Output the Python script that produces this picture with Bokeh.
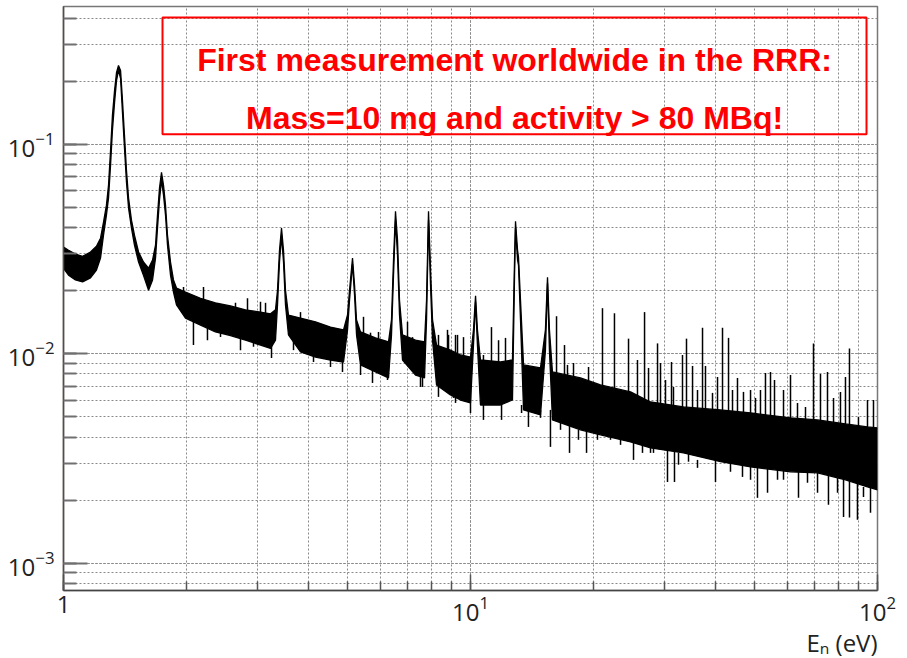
from bokeh.plotting import figure
from bokeh.models import BoxAnnotation, Label, Range1d, LogTickFormatter, LogTicker, Title
from bokeh.embed import file_html
from bokeh.resources import INLINE

# ---- data -----------------------------------------------------------------
# neutron energy (eV) of the anchors of the dense noisy capture-yield band
energy_band = [
    1.000, 1.029, 1.070, 1.114, 1.165, 1.205, 1.233, 1.254, 1.275, 1.290,
    1.305, 1.319, 1.335, 1.350, 1.365, 1.381, 1.396, 1.412, 1.428, 1.445,
    1.469, 1.494, 1.529, 1.572, 1.618, 1.655, 1.683, 1.702, 1.721, 1.741,
    1.761, 1.781, 1.801, 1.832, 1.863, 1.895, 1.994, 2.171, 2.362, 2.572,
    2.800, 3.048, 3.226, 3.318, 3.356, 3.394, 3.433, 3.472, 3.511, 3.571,
    3.822, 4.160, 4.529, 4.876, 4.987, 5.044, 5.130, 5.189, 5.248, 5.368,
    5.843, 6.289, 6.396, 6.469, 6.542, 6.617, 6.692, 6.807, 7.327, 7.710,
    7.798, 7.886, 7.976, 8.067, 8.252, 8.928, 9.450, 10.00, 10.17, 10.29,
    10.40, 10.58, 11.85, 12.68, 12.83, 12.90, 13.05, 13.12, 13.27, 13.50,
    14.86, 15.28, 15.46, 15.63, 15.90, 18.63, 20.86, 24.73, 27.69, 33.37,
    41.15, 48.76, 61.13, 71.23, 83.43, 94.50, 100.0,
]
# upper edge of the band
yield_band_hi = [
    0.0323, 0.0312, 0.0299, 0.0292, 0.0306, 0.0326, 0.0356, 0.0425, 0.0512, 0.0637,
    0.0936, 0.1375, 0.1809, 0.2205, 0.2381, 0.2254, 0.1621, 0.1104, 0.0752, 0.0553,
    0.0434, 0.0368, 0.0306, 0.0274, 0.0256, 0.0280, 0.0330, 0.0459, 0.0617, 0.0735,
    0.0637, 0.0512, 0.0368, 0.0274, 0.0225, 0.0206, 0.0197, 0.0184, 0.0175, 0.0169,
    0.0162, 0.0158, 0.0155, 0.0162, 0.0201, 0.0312, 0.0398, 0.0312, 0.0201, 0.0153,
    0.0148, 0.0142, 0.0134, 0.0130, 0.0153, 0.0201, 0.0286, 0.0213, 0.0145, 0.0127,
    0.0119, 0.0114, 0.0145, 0.0280, 0.0479, 0.0349, 0.0180, 0.0123, 0.0116, 0.0114,
    0.0180, 0.0479, 0.0251, 0.0145, 0.0110, 0.0104, 0.00986, 0.00964, 0.0130, 0.0189,
    0.0130, 0.00933, 0.00913, 0.00933, 0.0280, 0.0429, 0.0312, 0.0289, 0.0180, 0.00884,
    0.00855, 0.0130, 0.0232, 0.0130, 0.00818, 0.00766, 0.00709, 0.00657, 0.00588, 0.00557,
    0.00539, 0.00521, 0.00494, 0.00483, 0.00462, 0.00447, 0.00442,
]
# lower edge of the band
yield_band_lo = [
    0.0256, 0.0237, 0.0225, 0.0220, 0.0230, 0.0251, 0.0286, 0.0368, 0.0459, 0.0553,
    0.0794, 0.1166, 0.1586, 0.2019, 0.2254, 0.2064, 0.1421, 0.0957, 0.0659, 0.0495,
    0.0398, 0.0330, 0.0274, 0.0237, 0.0201, 0.0225, 0.0286, 0.0398, 0.0541, 0.0673,
    0.0571, 0.0459, 0.0330, 0.0237, 0.0197, 0.0171, 0.0148, 0.0137, 0.0127, 0.0122,
    0.0116, 0.0110, 0.0106, 0.0116, 0.0171, 0.0274, 0.0364, 0.0274, 0.0171, 0.0123,
    0.0102, 0.00964, 0.00933, 0.00913, 0.0130, 0.0180, 0.0268, 0.0191, 0.0123, 0.00884,
    0.00818, 0.00766, 0.0123, 0.0237, 0.0434, 0.0296, 0.0153, 0.00933, 0.00791, 0.00766,
    0.0145, 0.0434, 0.0213, 0.0116, 0.00709, 0.00635, 0.00601, 0.00582, 0.0110, 0.0177,
    0.0110, 0.00569, 0.00569, 0.00601, 0.0237, 0.0398, 0.0280, 0.0265, 0.0145, 0.00539,
    0.00510, 0.0104, 0.0217, 0.0104, 0.00483, 0.00433, 0.00410, 0.00379, 0.00355, 0.00336,
    0.00305, 0.00288, 0.00273, 0.00270, 0.00250, 0.00231, 0.00224,
]

# narrow upward noise spikes / small resonances above the band
spike_energy = [
    5.459, 7.002, 8.343, 8.831, 9.292, 9.612, 11.26, 11.72, 12.19, 16.27,
    17.02, 21.10, 22.58, 24.45, 26.77, 28.81, 31.18, 33.94, 35.12, 37.16,
    37.79, 41.61, 43.05, 45.29, 53.06, 54.59, 61.13, 69.62, 72.43, 75.36,
    83.43, 85.34, 97.76,
    1.972, 2.208, 2.646, 2.832, 3.048, 3.136, 3.822, 4.091, 4.329, 4.529,
    4.739, 5.680, 5.943, 7.203, 7.452, 8.780, 9.187, 10.76, 13.81, 14.69,
    17.31, 17.91, 19.50, 25.72, 27.38, 29.30, 30.14, 31.53, 33.18, 36.12,
    39.32, 40.45, 44.03, 46.85, 48.76, 50.15, 51.58, 55.84, 58.76, 63.60,
    66.54, 77.98, 81.10, 89.79, 94.50,
]
spike_top = [
    0.0150, 0.0142, 0.0123, 0.0123, 0.0123, 0.0120, 0.0134, 0.0116, 0.0119, 0.0151,
    0.0110, 0.0165, 0.0156, 0.0118, 0.0158, 0.0112, 0.00913, 0.0118, 0.00874, 0.0133,
    0.00874, 0.0133, 0.0119, 0.00766, 0.00809, 0.00818, 0.00791, 0.0112, 0.00800, 0.00818,
    0.00774, 0.0106, 0.00601,
    0.0208, 0.0208, 0.0175, 0.0184, 0.0177, 0.0175, 0.0158, 0.0140, 0.0137, 0.0133,
    0.0130, 0.0126, 0.0127, 0.0120, 0.0112, 0.0130, 0.0123, 0.00986, 0.00884, 0.00864,
    0.00884, 0.00903, 0.00864, 0.00933, 0.00855, 0.00903, 0.00749, 0.00694, 0.00986, 0.00671,
    0.00650, 0.00774, 0.00671, 0.00657, 0.00671, 0.00615, 0.00671, 0.00749, 0.00671, 0.00582,
    0.00557, 0.00615, 0.00657, 0.00499, 0.00601,
]
spike_base = [
    0.0110, 0.0104, 0.00836, 0.00791, 0.00836, 0.00836, 0.00836, 0.00791, 0.00791, 0.00749,
    0.00709, 0.00671, 0.00635, 0.00601, 0.00601, 0.00569, 0.00539, 0.00539, 0.00539, 0.00539,
    0.00539, 0.00527, 0.00527, 0.00510, 0.00494, 0.00494, 0.00483, 0.00483, 0.00473, 0.00473,
    0.00457, 0.00457, 0.00433,
    0.0180, 0.0171, 0.0153, 0.0153, 0.0148, 0.0148, 0.0137, 0.0123, 0.0123, 0.0116,
    0.0116, 0.0110, 0.0110, 0.0104, 0.00986, 0.00933, 0.00884, 0.00836, 0.00791, 0.00766,
    0.00709, 0.00709, 0.00671, 0.00601, 0.00569, 0.00539, 0.00539, 0.00539, 0.00539, 0.00527,
    0.00510, 0.00510, 0.00510, 0.00494, 0.00494, 0.00483, 0.00483, 0.00483, 0.00473, 0.00457,
    0.00457, 0.00442, 0.00442, 0.00433, 0.00423,
]

# narrow downward noise dips below the band
dip_energy = [
    2.086, 2.722, 3.244, 5.744, 6.253, 7.536, 8.343, 9.083, 10.00, 10.76,
    11.92, 13.88, 15.72, 17.51, 19.28, 25.15, 27.69, 30.48, 31.71, 39.99,
    50.71, 53.68, 63.96, 75.78, 82.52, 85.34, 89.28, 96.12,
    2.258, 2.431, 2.930, 3.674, 4.114, 4.529, 4.847, 5.368, 7.622, 9.187,
    13.35, 14.86, 16.64, 18.42, 20.51, 22.08, 23.37, 26.46, 28.16, 32.44,
    34.33, 36.12, 43.53, 46.59, 48.76, 56.80, 58.76, 67.30, 71.23, 79.76,
    92.38,
]
dip_bottom = [
    0.0110, 0.0104, 0.00954, 0.00725, 0.00749, 0.00694, 0.00622, 0.00615, 0.00521, 0.00483,
    0.00483, 0.00447, 0.00359, 0.00336, 0.00336, 0.00311, 0.00336, 0.00244, 0.00244, 0.00244,
    0.00205, 0.00217, 0.00205, 0.00190, 0.00166, 0.00165, 0.00161, 0.00174,
    0.0116, 0.0120, 0.0108, 0.0104, 0.00913, 0.00864, 0.00818, 0.00791, 0.00694, 0.00582,
    0.00521, 0.00494, 0.00433, 0.00388, 0.00388, 0.00388, 0.00367, 0.00336, 0.00336, 0.00295,
    0.00305, 0.00285, 0.00273, 0.00258, 0.00250, 0.00250, 0.00250, 0.00242, 0.00217, 0.00217,
    0.00207,
]
dip_top = [
    0.0148, 0.0130, 0.0116, 0.00933, 0.00933, 0.00884, 0.00836, 0.00791, 0.00671, 0.00635,
    0.00635, 0.00601, 0.00539, 0.00483, 0.00457, 0.00410, 0.00388, 0.00367, 0.00367, 0.00329,
    0.00311, 0.00311, 0.00295, 0.00279, 0.00264, 0.00264, 0.00250, 0.00250,
    0.0137, 0.0137, 0.0123, 0.0116, 0.0104, 0.00986, 0.00933, 0.00884, 0.00791, 0.00635,
    0.00569, 0.00539, 0.00483, 0.00433, 0.00423, 0.00410, 0.00396, 0.00367, 0.00367, 0.00336,
    0.00336, 0.00311, 0.00305, 0.00295, 0.00288, 0.00279, 0.00279, 0.00273, 0.00270, 0.00255,
    0.00231,
]

x_range = (1.0, 100.0)
y_range = (7.4e-4, 0.455)

note_box = dict(left=1.751, right=93.97, bottom=0.1116, top=0.4034)
note_lines = ["First measurement worldwide in the RRR:", "Mass=10 mg and activity > 80 MBq!"]
note_x = 12.83
note_baselines = [0.2529, 0.1341]
x_title = "E\u2099 (eV)"

# ---- figure ---------------------------------------------------------------
p = figure(width=907, height=658, x_axis_type="log", y_axis_type="log",
           x_range=Range1d(*x_range), y_range=Range1d(*y_range),
           output_backend="svg", toolbar_location=None,
           min_border_left=63, min_border_right=30, min_border_top=6, min_border_bottom=67)
p.background_fill_color = "white"
p.border_fill_color = "white"
p.outline_line_color = "#777777"
p.outline_line_width = 1.5

# grids: dotted on every major and minor tick
for g in (p.xgrid, p.ygrid):
    g.grid_line_color = "#8a8a8a"
    g.grid_line_dash = "2 2"
    g.grid_line_width = 1
    g.minor_grid_line_color = "#8a8a8a"
    g.minor_grid_line_dash = "2 2"
    g.minor_grid_line_width = 1

xa = p.xaxis[0]
xa.ticker = LogTicker(num_minor_ticks=10)
xa.formatter = LogTickFormatter(min_exponent=1)
xa.major_tick_in = 16
xa.major_tick_out = 0
xa.minor_tick_in = 9
xa.minor_tick_out = 0
xa.major_tick_line_color = "#555555"
xa.minor_tick_line_color = "#555555"
xa.major_tick_line_width = 1.5
xa.minor_tick_line_width = 1.5
xa.axis_line_color = "#444444"
xa.axis_line_width = 1.5
xa.major_label_text_font = "Open Sans"
xa.major_label_text_font_size = "24px"
xa.major_label_text_color = "#222222"
xa.major_label_standoff = 5

ya = p.yaxis[0]
ya.ticker = LogTicker(num_minor_ticks=10)
ya.formatter = LogTickFormatter()
ya.major_tick_in = 24
ya.major_tick_out = 0
ya.minor_tick_in = 13
ya.minor_tick_out = 0
ya.major_tick_line_color = "#707070"
ya.minor_tick_line_color = "#707070"
ya.major_tick_line_width = 2
ya.minor_tick_line_width = 2
ya.axis_line_color = "#5b4848"
ya.axis_line_width = 1.5
ya.major_label_text_font = "Open Sans"
ya.major_label_text_font_size = "24px"
ya.major_label_text_color = "#222222"
ya.major_label_standoff = 9

# x-axis title, right aligned under the axis
p.add_layout(Title(text=x_title, align="right", text_font="Open Sans",
                   text_font_size="24px", text_font_style="normal",
                   text_line_height=0.9, text_color="#222222", standoff=0), "below")

# ---- spectrum ---------------------------------------------------------------
p.varea(x=energy_band, y1=yield_band_lo, y2=yield_band_hi, fill_color="#000000")
p.line(energy_band, yield_band_hi, line_color="#000000", line_width=1.3)
p.line(energy_band, yield_band_lo, line_color="#000000", line_width=1.3)
p.segment(x0=spike_energy, y0=spike_base, x1=spike_energy, y1=spike_top,
          line_color="#000000", line_width=1.5)
p.segment(x0=dip_energy, y0=dip_bottom, x1=dip_energy, y1=dip_top,
          line_color="#000000", line_width=1.5)

# ---- annotation box -------------------------------------------------------
p.add_layout(BoxAnnotation(**note_box, fill_alpha=0, line_color="#ff0000",
                           line_alpha=1.0, line_width=2, level="overlay"))
for txt, yb in zip(note_lines, note_baselines):
    p.add_layout(Label(x=note_x, y=yb, text=txt, text_align="center",
                       text_baseline="alphabetic", text_font="Liberation Sans",
                       text_font_style="bold", text_font_size="32px",
                       text_color="#ff0000"))

open("out.html", "w").write(file_html(p, INLINE))
